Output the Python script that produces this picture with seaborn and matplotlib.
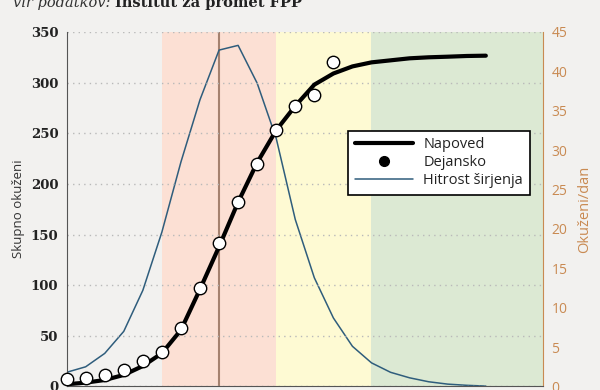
import pandas as pd
import matplotlib.pyplot as plt
import seaborn as sns
from matplotlib.lines import Line2D

# ---------------------------------------------------------
# data (x = day index, the date labels are cut off in the source)
# ---------------------------------------------------------
DAYS = list(range(23))
NAPOVED = [2.2, 3.8, 6.4, 11.4, 20.2, 32.8, 55.8, 96, 138, 182, 221, 253, 277,
           298, 309, 316, 320, 322, 324, 325, 325.6, 326.3, 326.6]
HITROST = [1.8, 2.5, 4.2, 7.0, 12.2, 19.6, 28.5, 36.4, 42.7, 43.3, 38.5, 31.5,
           21.2, 13.8, 8.7, 5.1, 3.0, 1.8, 1.1, 0.6, 0.3, 0.15, 0.05]
DEJ_DAYS = list(range(15))
DEJANSKO = [7.1, 8.1, 11.4, 16.3, 25.5, 34.4, 57.5, 97, 142, 182, 220, 253,
            277, 288, 320]

PHASES = [(5, 11, '#fce0d4'), (11, 16, '#fefad3'), (16, 25, '#dce9d3')]
PEAK_DAY = 8

BG = '#f2f1ef'
BLUE = '#2f5d7c'
ORANGE = '#c98a52'

sns.set_style('white', {'axes.facecolor': BG, 'figure.facecolor': BG})
plt.rcParams['font.family'] = ['Open Sans', 'DejaVu Sans']

df = pd.DataFrame({'dan': DAYS, 'napoved': NAPOVED, 'hitrost': HITROST})
dej = pd.DataFrame({'dan': DEJ_DAYS, 'dejansko': DEJANSKO})

fig = plt.figure(figsize=(6, 3.9), dpi=100)
ax = fig.add_axes([0.111, 0.009, 0.794, 0.909])
ax2 = ax.twinx()
ax.set_zorder(ax2.get_zorder() + 1)
ax.patch.set_visible(False)

# phases + peak marker (on the lower axes)
for a, b, c in PHASES:
    ax2.axvspan(a, b, color=c, lw=0, zorder=0)
ax2.axvline(PEAK_DAY, color='#a5826f', lw=1.5, zorder=1)

sns.lineplot(data=df, x='dan', y='hitrost', ax=ax2, color=BLUE, lw=1.1, zorder=2)

sns.lineplot(data=df, x='dan', y='napoved', ax=ax, color='black', lw=3, zorder=3)
sns.scatterplot(data=dej, x='dan', y='dejansko', ax=ax, s=80, color='white',
                edgecolor='black', linewidth=1, zorder=4)
ax.collections[-1].set_clip_on(False)

ax.set_xlim(0, 25)
ax.set_ylim(0, 350)
ax2.set_ylim(0, 45)
ax.set_xticks([])
ax.set_yticks(range(0, 351, 50))
ax2.set_yticks(range(0, 46, 5))

ax.grid(axis='y', color='#b9b9b9', lw=1, ls=(0, (1, 3)))
ax.set_axisbelow(True)

ax.tick_params(axis='y', length=0, pad=6)
for t in ax.get_yticklabels():
    t.set_family('DejaVu Serif')
    t.set_weight('bold')
    t.set_fontsize(9.5)
    t.set_color('#222222')
ax2.tick_params(axis='y', length=0, pad=6, labelsize=10, labelcolor=ORANGE)

ax.set_xlabel('')
ax.set_ylabel('Skupno okuženi', fontsize=9.5, color='#333333', labelpad=4)
ax2.set_ylabel('Okuženi/dan', fontsize=10.5, color=ORANGE, labelpad=7)

for s in ['top', 'right']:
    ax.spines[s].set_visible(False)
for s in ['top', 'left', 'bottom']:
    ax2.spines[s].set_visible(False)
ax.spines['left'].set_color('#555555')
ax.spines['bottom'].set_color('#555555')
ax2.spines['right'].set_color(ORANGE)

handles = [
    Line2D([], [], color='black', lw=3),
    Line2D([], [], color='black', marker='o', ls='none', markersize=7),
    Line2D([], [], color=BLUE, lw=1.1),
]
leg = ax.legend(handles, ['Napoved', 'Dejansko', 'Hitrost širjenja'],
                loc='upper right', bbox_to_anchor=(0.987, 0.742),
                fontsize=10.5, handlelength=4, handletextpad=0.7,
                labelspacing=0.2, borderpad=0.45, fancybox=False,
                framealpha=1, facecolor='white', edgecolor='black')
leg.get_frame().set_linewidth(1.2)
for t in leg.get_texts():
    t.set_color('#222222')

# source line, its top is cut off in the reference
r = fig.canvas.get_renderer()
t1 = fig.text(0.021, 0.982, 'vir podatkov: ', family='DejaVu Serif',
              style='italic', fontsize=10.5, color='#333333', va='baseline')
w = t1.get_window_extent(renderer=r).width / fig.bbox.width
fig.text(0.021 + w, 0.982, 'Institut za promet FPP', family='DejaVu Serif',
         weight='bold', fontsize=10.5, color='#222222', va='baseline')

fig.savefig('out.png', dpi=100, facecolor=BG)
